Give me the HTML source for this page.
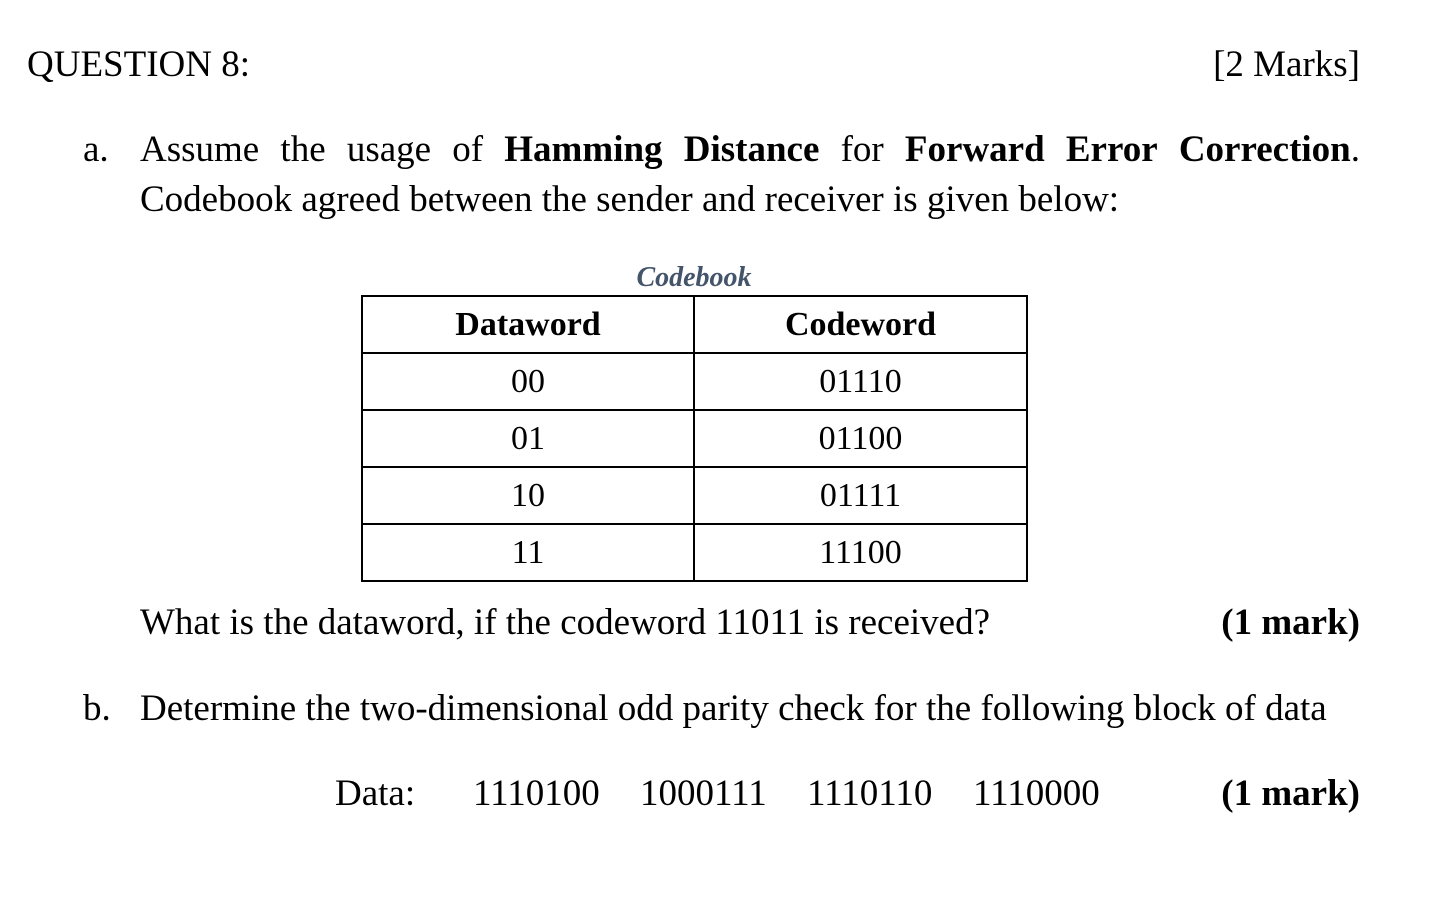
<!DOCTYPE html>
<html><head><meta charset="utf-8"><style>
body{margin:0;width:1444px;height:900px;background:#fff;position:relative;overflow:hidden;font-family:"Liberation Serif",serif;color:#000}
.t{position:absolute;white-space:nowrap;line-height:1}
.f36{font-size:37px}
b{font-weight:bold}
table{position:absolute;left:361px;top:295px;border-collapse:collapse}
td{border:2px solid #000;height:55px;padding:0;text-align:center;font-size:34px;line-height:1}
</style></head><body>
<div class="t f36" style="left:27px;top:46px">QUESTION 8:</div>
<div class="t f36" style="right:84px;top:46px">[2 Marks]</div>
<div class="t f36" style="left:83px;top:131px">a.</div>
<div class="t f36" style="left:140px;top:131px;width:1220px;display:flex;justify-content:space-between"><span>Assume</span><span>the</span><span>usage</span><span>of</span><span><b>Hamming</b></span><span><b>Distance</b></span><span>for</span><span><b>Forward</b></span><span><b>Error</b></span><span><b>Correction</b>.</span></div>
<div class="t f36" style="left:140px;top:181px">Codebook agreed between the sender and receiver is given below:</div>
<div class="t" style="left:694px;top:264px;transform:translateX(-50%);font-size:28px;font-weight:bold;font-style:italic;color:#44546A">Codebook</div>
<table>
<tr><td style="width:330px;font-weight:bold">Dataword</td><td style="width:331px;font-weight:bold">Codeword</td></tr>
<tr><td>00</td><td>01110</td></tr>
<tr><td>01</td><td>01100</td></tr>
<tr><td>10</td><td>01111</td></tr>
<tr><td>11</td><td>11100</td></tr>
</table>
<div class="t f36" style="left:140px;top:604px">What is the dataword, if the codeword 11011 is received?</div>
<div class="t f36" style="right:84px;top:604px;font-weight:bold">(1 mark)</div>
<div class="t f36" style="left:83px;top:690px">b.</div>
<div class="t f36" style="left:140px;top:690px">Determine the two-dimensional odd parity check for the following block of data</div>
<div class="t f36" style="left:335px;top:775px">Data:</div>
<div class="t f36" style="left:473px;top:775px">1110100</div>
<div class="t f36" style="left:640px;top:775px">1000111</div>
<div class="t f36" style="left:807px;top:775px">1110110</div>
<div class="t f36" style="left:973px;top:775px">1110000</div>
<div class="t f36" style="right:84px;top:775px;font-weight:bold">(1 mark)</div>
</body></html>
